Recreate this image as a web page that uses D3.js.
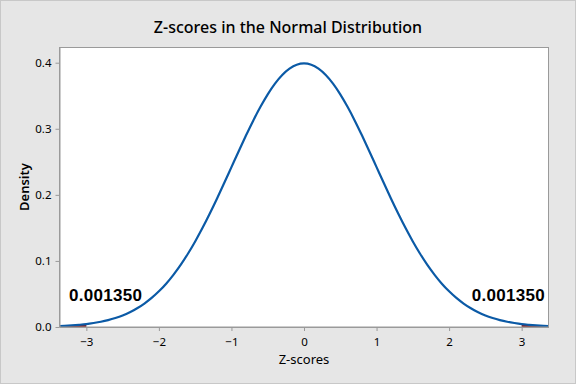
<!DOCTYPE html>
<html><head><meta charset="utf-8">
<script src="https://cdn.jsdelivr.net/npm/d3@7"></script>
<style>body{margin:0;background:#e6e6e6;}svg{display:block;}</style>
</head><body>
<svg id="c" width="576" height="384"></svg>
<script>
const title = "Z-scores in the Normal Distribution";
const xLabel = "Z-scores";
const yLabel = "Density";
const zValues = [-3.4,-3.3,-3.2,-3.1,-3.0,-2.9,-2.8,-2.7,-2.6,-2.5,-2.4,-2.3,-2.2,-2.1,-2.0,-1.9,-1.8,-1.7,-1.6,-1.5,-1.4,-1.3,-1.2,-1.1,-1.0,-0.9,-0.8,-0.7,-0.6,-0.5,-0.4,-0.3,-0.2,-0.1,0.0,0.1,0.2,0.3,0.4,0.5,0.6,0.7,0.8,0.9,1.0,1.1,1.2,1.3,1.4,1.5,1.6,1.7,1.8,1.9,2.0,2.1,2.2,2.3,2.4,2.5,2.6,2.7,2.8,2.9,3.0,3.1,3.2,3.3,3.4];
const densities = [0.0012,0.0017,0.0024,0.0033,0.0044,0.0060,0.0079,0.0104,0.0136,0.0175,0.0224,0.0283,0.0355,0.0440,0.0540,0.0656,0.0790,0.0940,0.1109,0.1295,0.1497,0.1714,0.1942,0.2179,0.2420,0.2661,0.2897,0.3123,0.3332,0.3521,0.3683,0.3814,0.3910,0.3970,0.3989,0.3970,0.3910,0.3814,0.3683,0.3521,0.3332,0.3123,0.2897,0.2661,0.2420,0.2179,0.1942,0.1714,0.1497,0.1295,0.1109,0.0940,0.0790,0.0656,0.0540,0.0440,0.0355,0.0283,0.0224,0.0175,0.0136,0.0104,0.0079,0.0060,0.0044,0.0033,0.0024,0.0017,0.0012];
const xTicks = [-3,-2,-1,0,1,2,3];
const yTicks = [0.0,0.1,0.2,0.3,0.4];
const tailCut = 3;
const tailLabels = [{side:"left", text:"0.001350"},{side:"right", text:"0.001350"}];

const svg = d3.select("#c");
const W = 576, H = 384;
const m = {left:59.5, right:548.5, top:47.5, bottom:327};
svg.append("rect").attr("x",0.5).attr("y",0.5).attr("width",W-1).attr("height",H-1)
  .attr("fill","#e6e6e6").attr("stroke","#c8c8c8");
svg.append("rect").attr("x",m.left).attr("y",m.top).attr("width",m.right-m.left).attr("height",m.bottom-m.top)
  .attr("fill","#ffffff");

const x = d3.scaleLinear().domain([-3.37,3.37]).range([m.left,m.right]);
const y = d3.scaleLinear().domain([0,0.423]).range([m.bottom,m.top]);

const data = zValues.map((z,i)=>({z, d:densities[i]}));

svg.append("clipPath").attr("id","clip").append("rect")
  .attr("x",m.left).attr("y",m.top).attr("width",m.right-m.left).attr("height",m.bottom-m.top);

const g = svg.append("g").attr("clip-path","url(#clip)");
const area = d3.area().x(d=>x(d.z)).y0(y(0)).y1(d=>y(d.d)).curve(d3.curveMonotoneX);
g.append("path").datum(data.filter(d=>d.z<=-tailCut)).attr("d",area).attr("fill","#8b1a1a");
g.append("path").datum(data.filter(d=>d.z>=tailCut)).attr("d",area).attr("fill","#8b1a1a");
const line = d3.line().x(d=>x(d.z)).y(d=>y(d.d)).curve(d3.curveMonotoneX);
g.append("path").datum(data).attr("d",line).attr("fill","none")
  .attr("stroke","#0b5aa6").attr("stroke-width",2.2);

// frame
svg.append("rect").attr("x",m.left).attr("y",m.top).attr("width",m.right-m.left).attr("height",m.bottom-m.top)
  .attr("fill","none").attr("stroke","#9a9a9a").attr("stroke-width",1);

const font = "'Noto Sans', 'Open Sans', sans-serif";
const xAxis = svg.append("g").attr("transform",`translate(0,${m.bottom})`)
  .call(d3.axisBottom(x).tickValues(xTicks).tickSize(4).tickSizeOuter(0).tickFormat(d3.format("d")));
const yAxis = svg.append("g").attr("transform",`translate(${m.left},0)`)
  .call(d3.axisLeft(y).tickValues(yTicks).tickSize(4).tickSizeOuter(0).tickFormat(d3.format(".1f")));
[xAxis,yAxis].forEach(a=>{
  a.select(".domain").attr("stroke","#9a9a9a");
  a.selectAll(".tick line").attr("stroke","#9a9a9a");
  a.selectAll(".tick text").attr("fill","#000").style("font-family",font).style("font-size","11.5px");
});
xAxis.selectAll(".tick text").attr("dy","1.0em");
yAxis.selectAll(".tick text").attr("dx","-1px");

svg.append("text").attr("x",288).attr("y",32.5).attr("text-anchor","middle")
  .style("font-family",font).style("font-size","16px").style("font-weight","500").text(title);
svg.append("text").attr("x",x(0)).attr("y",364).attr("text-anchor","middle")
  .style("font-family",font).style("font-size","13px").text(xLabel);
svg.append("text").attr("transform","translate(29,187) rotate(-90)").attr("text-anchor","middle")
  .style("font-family",font).style("font-size","13px").style("font-weight","600").text(yLabel);

tailLabels.forEach(t=>{
  svg.append("text")
    .attr("x", t.side==="left" ? 69 : 545)
    .attr("y", 301)
    .attr("text-anchor", t.side==="left" ? "start" : "end")
    .style("font-family","'Liberation Sans', Arial, sans-serif").style("font-size","17px").style("font-weight","bold")
    .style("letter-spacing","0.3px")
    .text(t.text);
});
</script>
</body></html>
